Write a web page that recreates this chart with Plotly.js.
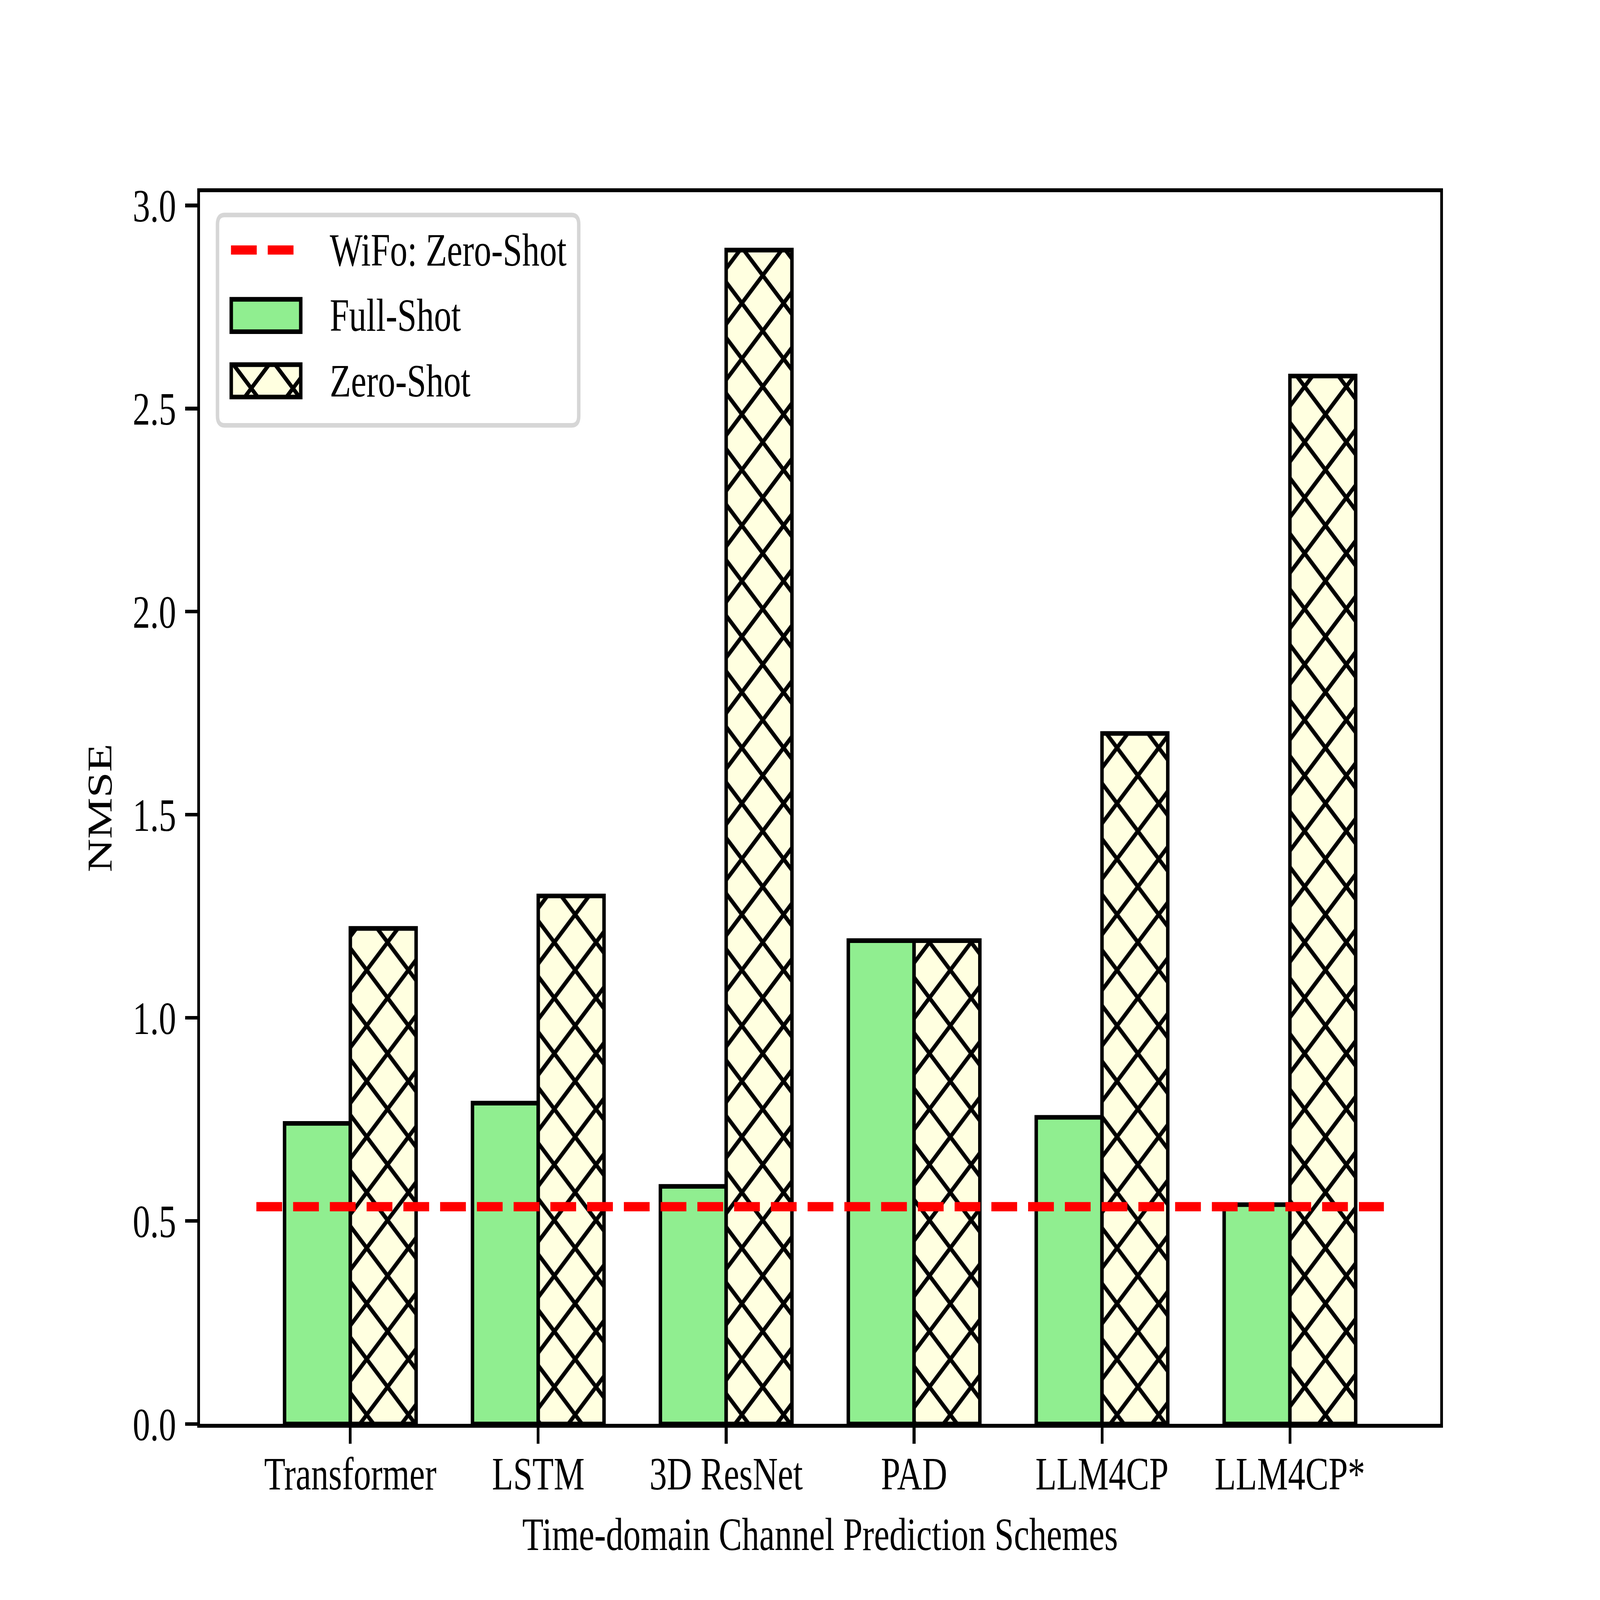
<!DOCTYPE html>
<html>
<head>
<meta charset="utf-8">
<script src="https://cdn.plot.ly/plotly-3.0.1.min.js"></script>
<style>
  html, body { margin: 0; padding: 0; background: #ffffff; overflow: hidden; }
</style>
</head>
<body>
<div id="chart"></div>
<script>
// ---- data ----
const categories = ["Transformer", "LSTM", "3D ResNet", "PAD", "LLM4CP", "LLM4CP*"];
const fullShot = [0.74, 0.79, 0.585, 1.19, 0.755, 0.54];
const zeroShot = [1.22, 1.30, 2.89, 1.19, 1.70, 2.58];
const wifoZeroShot = 0.535;
const yTicks = [0.0, 0.5, 1.0, 1.5, 2.0, 2.5, 3.0];
const legendNames = ["WiFo: Zero-Shot", "Full-Shot", "Zero-Shot"];

// ---- build on a 6400x4800 design grid ----
const W = 6400, H = 4800;
const M = { l: 800, r: 639, t: 576, b: 528 };
const PW = W - M.l - M.r, PH = H - M.t - M.b;
const FONT = "Liberation Serif, Times New Roman, serif";
const FS = 138.9;
const GREEN = "#90EE90", YELLOW = "#FFFFE0";
const edge = { color: "#000000", width: 13.9 };
const pos = categories.map((c, i) => i);

const traces = [
  {
    type: "bar", name: legendNames[1], x: pos, y: fullShot, showlegend: false,
    marker: { color: GREEN, line: edge }
  },
  {
    type: "bar", name: legendNames[2], x: pos, y: zeroShot, showlegend: false,
    marker: {
      color: YELLOW, line: edge,
      pattern: { shape: "x", size: 117.9, solidity: 0.222, fgcolor: "#000000", bgcolor: YELLOW, fgopacity: 1, fillmode: "replace" }
    }
  },
  {
    type: "scatter", mode: "lines", name: legendNames[0], showlegend: false,
    x: [pos[0] - 0.5, pos[pos.length - 1] + 0.5],
    y: [wifoZeroShot, wifoZeroShot],
    line: { color: "#FF0000", width: 27.8, dash: "103px,44px" }
  }
];

// ---- hand-built legend (design pixel -> paper helpers) ----
const px = x => (x - M.l) / PW;
const py = y => (H - M.b - y) / PH;
const shapes = [];
const annotations = [];

(function () {
  const x0 = 870, x1 = 2315, y0 = 645, y1 = 1276, r = 28;
  const d = `M${px(x0 + r)},${py(y0)} L${px(x1 - r)},${py(y0)} Q${px(x1)},${py(y0)} ${px(x1)},${py(y0 + r)} ` +
            `L${px(x1)},${py(y1 - r)} Q${px(x1)},${py(y1)} ${px(x1 - r)},${py(y1)} ` +
            `L${px(x0 + r)},${py(y1)} Q${px(x0)},${py(y1)} ${px(x0)},${py(y1 - r)} ` +
            `L${px(x0)},${py(y0 + r)} Q${px(x0)},${py(y0)} ${px(x0 + r)},${py(y0)} Z`;
  shapes.push({ type: "path", xref: "paper", yref: "paper", path: d,
    fillcolor: "#ffffff", line: { color: "#d6d6d6", width: 13.9 }, layer: "above" });
})();

shapes.push({ type: "line", xref: "paper", yref: "paper",
  x0: px(924), x1: px(1202), y0: py(750), y1: py(750),
  line: { color: "#FF0000", width: 27.8, dash: "103px,44px" }, layer: "above" });

shapes.push({ type: "rect", xref: "paper", yref: "paper",
  x0: px(925), x1: px(1203), y0: py(898), y1: py(995),
  fillcolor: GREEN, line: { color: "#000000", width: 13.9 }, layer: "above" });

const zx0 = 925, zx1 = 1203, zy0 = 1094, zy1 = 1191;
shapes.push({ type: "rect", xref: "paper", yref: "paper",
  x0: px(zx0), x1: px(zx1), y0: py(zy0), y1: py(zy1),
  fillcolor: YELLOW, line: { width: 0 }, layer: "above" });
(function () {
  const P = 166.7;
  const segs = [];
  [160, 160 - P, 160 + P].forEach(c => {
    const xa = Math.max(zx0, zy0 - c), xb = Math.min(zx1, zy1 - c);
    if (xb > xa) segs.push([xa, xa + c, xb, xb + c]);
  });
  [2170, 2170 + P, 2170 - P].forEach(d => {
    const xa = Math.max(zx0, d - zy1), xb = Math.min(zx1, d - zy0);
    if (xb > xa) segs.push([xa, d - xa, xb, d - xb]);
  });
  segs.forEach(s => shapes.push({ type: "line", xref: "paper", yref: "paper",
    x0: px(s[0]), y0: py(s[1]), x1: px(s[2]), y1: py(s[3]),
    line: { color: "#000000", width: 13.9 }, layer: "above" }));
})();
shapes.push({ type: "rect", xref: "paper", yref: "paper",
  x0: px(zx0), x1: px(zx1), y0: py(zy0), y1: py(zy1),
  fillcolor: "rgba(0,0,0,0)", line: { color: "#000000", width: 13.9 }, layer: "above" });

[[legendNames[0], 750], [legendNames[1], 946], [legendNames[2], 1143]].forEach(([t, y]) => {
  annotations.push({ xref: "paper", yref: "paper", x: px(1317), y: py(y),
    xanchor: "left", yanchor: "middle", text: t, showarrow: false,
    font: { family: FONT, size: FS, color: "#000000" } });
});

const axisCommon = {
  showline: true, linecolor: "#000000", linewidth: 11.1, mirror: true,
  ticks: "outside", ticklen: 48.6, tickwidth: 11.1, tickcolor: "#000000",
  showgrid: false, zeroline: false, automargin: false,
  tickfont: { family: FONT, size: FS, color: "#000000" }
};

const layout = {
  width: W, height: H,
  paper_bgcolor: "#ffffff", plot_bgcolor: "#ffffff",
  margin: { l: M.l, r: M.r, t: M.t, b: M.b, pad: 0 },
  barmode: "group", bargap: 0.3, bargroupgap: 0,
  font: { family: FONT, size: FS, color: "#000000" },
  showlegend: false,
  shapes: shapes,
  annotations: annotations,
  xaxis: Object.assign({}, axisCommon, {
    range: [-0.8, 5.8], tickmode: "array", tickvals: pos, ticktext: categories,
    ticklabelstandoff: -30,
    title: { text: "Time-domain Channel Prediction Schemes", font: { family: FONT, size: FS, color: "#000000" }, standoff: 60 }
  }),
  yaxis: Object.assign({}, axisCommon, {
    range: [0, 3.033], tickmode: "array", tickvals: yTicks,
    ticktext: yTicks.map(v => v.toFixed(1)),
    ticklabelstandoff: 8,
    title: { text: "NMSE", font: { family: FONT, size: FS, color: "#000000" }, standoff: 42 }
  })
};

Plotly.newPlot("chart", traces, layout, { staticPlot: true, displayModeBar: false, responsive: false })
  .then(gd => {
    // fit the 6400x4800 drawing to the actual window
    const vw = window.innerWidth || W, vh = window.innerHeight || H;
    if (vw === W && vh === H) return;
    gd.style.width = vw + "px"; gd.style.height = vh + "px";
    gd.querySelectorAll(".plot-container, .svg-container").forEach(el => {
      el.style.width = vw + "px"; el.style.height = vh + "px";
    });
    gd.querySelectorAll("svg.main-svg").forEach(svg => {
      svg.setAttribute("viewBox", "0 0 " + W + " " + H);
      svg.setAttribute("preserveAspectRatio", "none");
      svg.setAttribute("width", vw);
      svg.setAttribute("height", vh);
    });
  });
</script>
</body>
</html>
